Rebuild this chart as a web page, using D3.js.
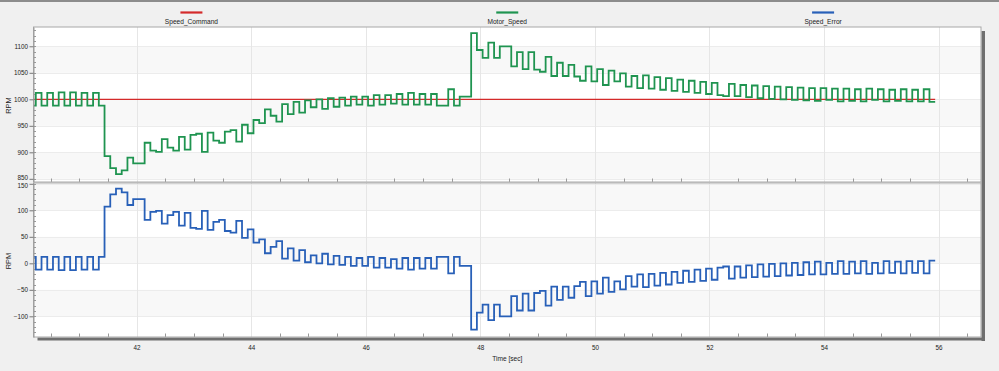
<!DOCTYPE html>
<html><head><meta charset="utf-8">
<script src="https://cdn.jsdelivr.net/npm/d3@7"></script>
<style>
html,body{margin:0;padding:0;background:#f0f0f0;}
svg{display:block;font-family:"Liberation Sans",Arial,sans-serif;}
</style></head><body>
<svg id="chart" width="999" height="371"></svg>
<script>
// ---------------- data ----------------
const seriesNames = ["Speed_Command", "Motor_Speed", "Speed_Error"];
const seriesColors = ["#d42a2a", "#1f9450", "#2860b8"];
const sampleStart = 40.14;   // seconds
const samplePeriod = 0.1;    // seconds
const speedCommand = [1000, 1000];
const motorSpeed = [
 988,1012,988,1012,988,1013,988,1013,988,1012,988,1012,988,
 893,870,859,866,890,879,879,
 918,903,901,925,909,903,929,905,933,935,
 901,937,922,918,939,942,920,952,936,961,
 955,981,969,958,991,972,
 995,975,998,985,1000,982,1002,986,1003,988,1005,990,1005,988,1008,990,1008,992,1010,990,1012,990,1010,990,1010,988,
 988,1019,988,1005,1005,
 1125,1093,1078,1107,1078,1100,1100,1062,1089,1057,1089,1056,1052,1080,1044,1069,1044,1065,1043,1035,1062,1034,1057,1027,1054,1034,1049,1024,1044,1021,
 1045,1020,1042,1018,1040,1016,1037,1014,1035,1012,1033,1010,1031,1008,1006,1029,1006,1027,1004,1026,1002,1025,1001,1024,1000,1023,999,1022,998,
 1021,997,1021,999,1020,996,1020,997,1019,996,1020,999,1019,996,1018,997,1019,996,1018,996,1019,995
];
const speedError = [
 12,-12,12,-12,12,-13,12,-13,12,-12,12,-12,12,
 107,130,141,134,110,121,121,
 82,97,99,75,91,97,71,95,67,65,
 99,63,78,82,61,58,80,48,64,39,
 45,19,31,42,9,28,
 5,25,2,15,0,18,-2,14,-3,12,-5,10,-5,12,-8,10,-8,8,-10,10,-12,10,-10,10,-10,12,
 12,-19,12,-5,-5,
 -125,-93,-78,-107,-78,-100,-100,-62,-89,-57,-89,-56,-52,-80,-44,-69,-44,-65,-43,-35,-62,-34,-57,-27,-54,-34,-49,-24,-44,-21,
 -45,-20,-42,-18,-40,-16,-37,-14,-35,-12,-33,-10,-31,-8,-6,-29,-6,-27,-4,-26,-2,-25,-1,-24,0,-23,1,-22,2,
 -21,3,-21,1,-20,4,-20,3,-19,4,-20,1,-19,4,-18,3,-19,4,-18,4,-19,5
];
const xTicks = [42, 44, 46, 48, 50, 52, 54, 56];
const topYTicks = [850, 900, 950, 1000, 1050, 1100];
const bottomYTicks = [-100, -50, 0, 50, 100, 150];
const xLabel = "Time [sec]";
const yLabel = "RPM";

// ---------------- layout ----------------
const svg = d3.select("#chart");
const plotL = 33.5, plotR = 981, topT = 27, topB = 182, botT = 183, botB = 337;
const x = d3.scaleLinear().domain([40.20, 56.74]).range([plotL, plotR]);
const yTop = d3.scaleLinear().domain([844, 1136.4]).range([topB, topT]);
const yBot = d3.scaleLinear().domain([-139, 151.5]).range([botB, botT]);
const tEnd = sampleStart + samplePeriod * motorSpeed.length;
const textColor = "#222";
const tickFont = 6.3;

svg.append("rect").attr("x", 0).attr("y", 0).attr("width", 999).attr("height", 2).attr("fill", "#8c8c8c");

// shadow
svg.append("rect").attr("x", plotR + 0.5).attr("y", topT + 4).attr("width", 3.5).attr("height", botB - topT).attr("fill", "#6f6f6f");
svg.append("rect").attr("x", plotL + 4).attr("y", botB + 0.5).attr("width", plotR - plotL).attr("height", 3).attr("fill", "#6f6f6f");

// legend
const legW = (plotR - plotL) / 3;
const leg = svg.append("g");
seriesNames.forEach((n, i) => {
  const cx = plotL + legW * (i + 0.5);
  leg.append("line").attr("x1", cx - 11).attr("x2", cx + 11).attr("y1", 12.5).attr("y2", 12.5)
    .attr("stroke", seriesColors[i]).attr("stroke-width", 2.2);
  leg.append("text").attr("x", cx).attr("y", 23.5).attr("text-anchor", "middle")
    .attr("font-size", 6.6).style("fill", textColor).text(n);
});

function drawPanel(y, top, bottom, yTicks, id, lines, labelShift) {
  const g = svg.append("g");
  g.append("rect").attr("x", plotL).attr("y", top).attr("width", plotR - plotL).attr("height", bottom - top).attr("fill", "#ffffff");
  for (let i = 0; i < yTicks.length - 1; i += 2) {
    g.append("rect").attr("x", plotL).attr("width", plotR - plotL)
      .attr("y", y(yTicks[i + 1])).attr("height", y(yTicks[i]) - y(yTicks[i + 1]))
      .attr("fill", "#f8f8f8");
  }
  g.selectAll(".hg").data(yTicks).enter().append("line")
    .attr("x1", plotL).attr("x2", plotR).attr("y1", d => Math.round(y(d)) + 0.5).attr("y2", d => Math.round(y(d)) + 0.5)
    .attr("stroke", "#ececec").attr("stroke-width", 1);
  g.selectAll(".vg").data(xTicks).enter().append("line")
    .attr("x1", d => Math.round(x(d)) + 0.5).attr("x2", d => Math.round(x(d)) + 0.5).attr("y1", top).attr("y2", bottom)
    .attr("stroke", "#e6e6e6").attr("stroke-width", 1);
  const minorX = d3.range(40.5, 56.75, 0.5).filter(v => !xTicks.includes(v));
  g.selectAll(".mx").data(minorX).enter().append("line")
    .attr("x1", d => Math.round(x(d)) + 0.5).attr("x2", d => Math.round(x(d)) + 0.5)
    .attr("y1", bottom - 3.5).attr("y2", bottom).attr("stroke", "#999").attr("stroke-width", 1);
  const dom = y.domain();
  const minorY = d3.range(Math.ceil(dom[0] / 10) * 10, dom[1], 10);
  g.selectAll(".my").data(minorY).enter().append("line")
    .attr("x1", plotL).attr("x2", plotL + 2.5).attr("y1", d => Math.round(y(d)) + 0.5).attr("y2", d => Math.round(y(d)) + 0.5)
    .attr("stroke", "#999").attr("stroke-width", 1);
  svg.append("clipPath").attr("id", id).append("rect").attr("x", plotL).attr("y", top).attr("width", plotR - plotL).attr("height", bottom - top);
  const lg = g.append("g").attr("clip-path", `url(#${id})`);
  lines.forEach(l => {
    const pts = l.values.map((v, i) => [l.times ? l.times[i] : sampleStart + i * samplePeriod, v]);
    if (!l.times) pts.push([tEnd, l.values[l.values.length - 1]]);
    const line = d3.line().x(d => x(d[0])).y(d => y(d[1])).curve(d3.curveStepAfter);
    lg.append("path").attr("d", line(pts)).attr("fill", "none")
      .attr("stroke", l.color).attr("stroke-width", l.width).attr("stroke-linejoin", "miter");
  });
  g.append("rect").attr("x", plotL).attr("y", top).attr("width", plotR - plotL).attr("height", bottom - top)
    .attr("fill", "none").attr("stroke", "#a8a8a8").attr("stroke-width", 1);
  const ax = d3.axisLeft(y).tickValues(yTicks).tickSize(4).tickPadding(1.5).tickSizeOuter(0).tickFormat(d3.format("d"));
  const axg = g.append("g").attr("transform", `translate(${plotL},0)`).call(ax);
  axg.select(".domain").attr("stroke", "#999");
  axg.selectAll(".tick line").attr("stroke", "#777");
  axg.selectAll(".tick text").attr("font-size", tickFont).style("fill", textColor)
    .attr("font-family", "Liberation Sans, Arial, sans-serif")
    .attr("dy", d => (labelShift[d] !== undefined ? labelShift[d] : 0.32) + "em");
  g.append("text").attr("transform", `translate(11,${(top + bottom) / 2 + 1}) rotate(-90)`)
    .attr("text-anchor", "middle").attr("font-size", 7.5).style("fill", textColor).text(yLabel);
}

drawPanel(yTop, topT, topB, topYTicks, "clipTop", [
  { values: speedCommand, times: [sampleStart, tEnd], color: seriesColors[0], width: 1.2 },
  { values: motorSpeed, color: seriesColors[1], width: 1.8 }
], { 850: 0.1 });
drawPanel(yBot, botT, botB, bottomYTicks, "clipBot", [
  { values: speedError, color: seriesColors[2], width: 1.8 }
], { 150: 0.62 });

const xa = d3.axisBottom(x).tickValues(xTicks).tickSize(0).tickPadding(9).tickFormat(d3.format("d"));
const xg = svg.append("g").attr("transform", `translate(0,${botB})`).call(xa);
xg.select(".domain").remove();
xg.selectAll(".tick text").attr("font-size", tickFont).style("fill", textColor).attr("font-family", "Liberation Sans, Arial, sans-serif");
svg.append("text").attr("x", (plotL + plotR) / 2).attr("y", 360.5).attr("text-anchor", "middle")
  .attr("font-size", 6.6).style("fill", textColor).text(xLabel);
</script>
</body></html>
